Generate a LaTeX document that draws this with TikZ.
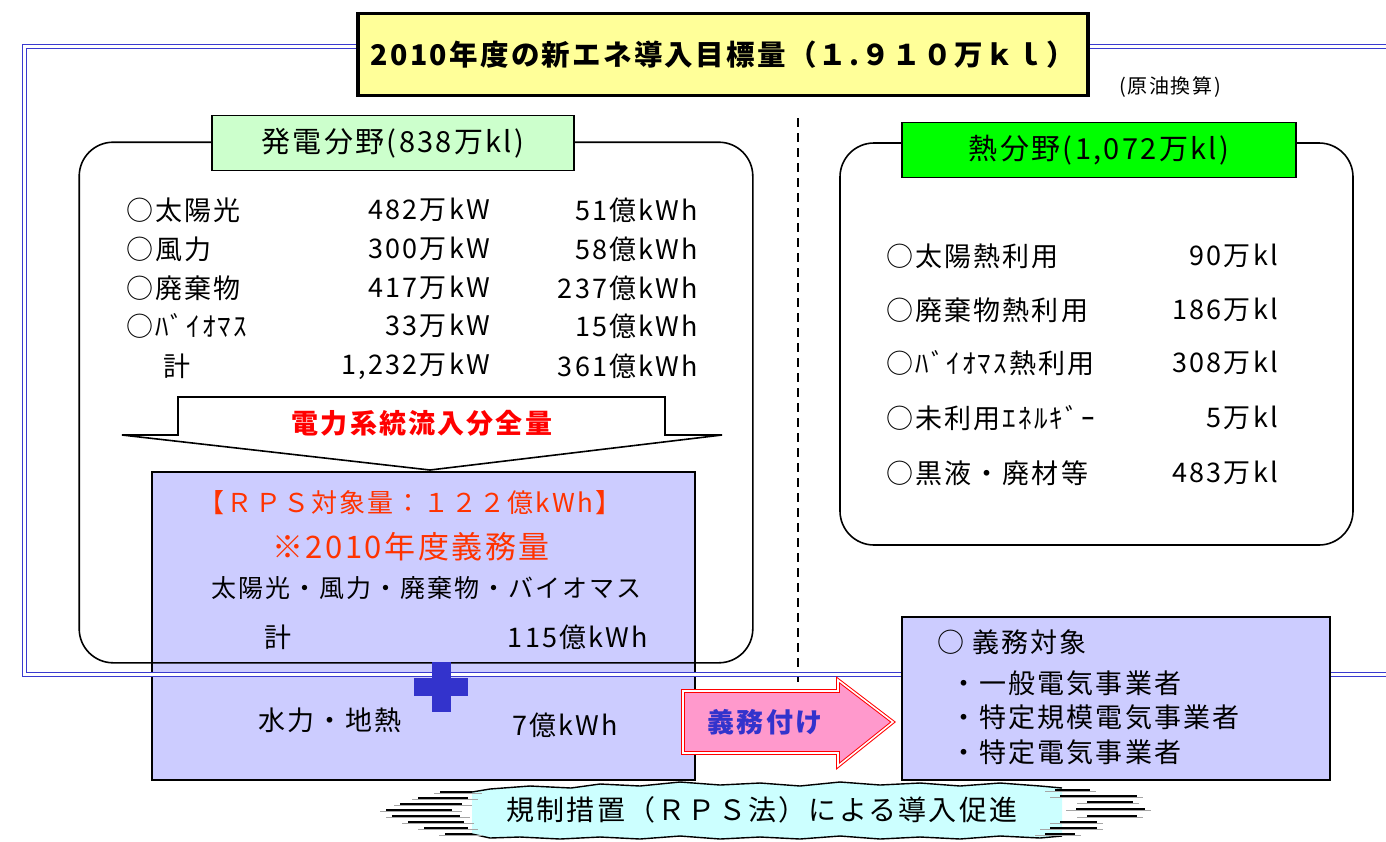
\documentclass[tikz,border=0pt]{standalone}
\usepackage{fontspec}
\setmainfont{Noto Sans CJK JP}[LetterSpace=8]
\definecolor{frameblue}{HTML}{3A3ACF}
\definecolor{lav}{HTML}{CCCCFF}
\definecolor{titleyellow}{HTML}{FFFF99}
\definecolor{lightgreen}{HTML}{CCFFCC}
\definecolor{brightgreen}{HTML}{00FF00}
\definecolor{rpsred}{HTML}{FF3300}
\definecolor{pinkfill}{HTML}{FF99CC}
\definecolor{bannercyan}{HTML}{CCFFFF}
\definecolor{plusblue}{HTML}{3333CC}
\newcommand{\fsz}[1]{\fontsize{#1}{#1}\selectfont}
\begin{document}
\begin{tikzpicture}[x=1pt,y=-1pt,
  txt/.style={inner sep=0pt, font=\fsz{27}},
  lbl/.style={txt, anchor=west},
  val/.style={txt, anchor=east},
  roundbox/.style={rounded corners=34pt, line width=1.6pt},
  headbox/.style={draw, line width=1.6pt, inner sep=0pt, font=\fsz{29}},
  lavbox/.style={draw, fill=lav, line width=1.8pt, inner sep=0pt},
  streak/.style={line width=2.2pt, black},
  streakg/.style={line width=1.2pt, gray!70}
]
\useasboundingbox (0,0) rectangle (1386,841);
\clip (0,0) rectangle (1386,841);

% left rounded box (fill only first)
\node[roundbox, fill=white, minimum width=672, minimum height=519, inner sep=0pt] (powerbox) at (416,402.5) {};
% RPS box
\node[lavbox, minimum width=543, minimum height=308] (rpsbox) at (423.5,626) {};
% rounded outline over RPS box
\draw[roundbox] (powerbox.south west) rectangle (powerbox.north east);

% right rounded box
\node[roundbox, draw, fill=white, minimum width=513, minimum height=402, inner sep=0pt] (heatbox) at (1096.5,344) {};

% dashed divider
\coordinate (dtop) at (798,118);
\coordinate (dbot) at (798,686);
\draw[line width=1.3pt, dash pattern=on 9pt off 6pt] (dtop) -- (dbot);

% outer double frame
\draw[frameblue, double=white, double distance=3pt, line width=1.3pt] (24.5,46.5) rectangle (1420,674.5);

% title
\node[draw, fill=titleyellow, line width=3.5pt, minimum width=730, minimum height=82, inner sep=0pt, font=\fsz{28.5}\bfseries] (title) at (723,54.5) {2010年度の新エネ導入目標量（１.９１０万ｋｌ）};
\node[txt, font=\fsz{20}] (genyu) at (1170,87) {(原油換算)};

% headers
\node[headbox, fill=lightgreen, minimum width=362, minimum height=55] (powerhead) at (393,143) {発電分野(838万kl)};
\node[headbox, fill=brightgreen, minimum width=394, minimum height=55] (heathead) at (1099,150) {熱分野(1,072万kl)};

% left rows
\node[lbl] (p1) at (126,210) {○太陽光};
\node[lbl] (p2) at (126,249) {○風力};
\node[lbl] (p3) at (126,288) {○廃棄物};
\node[lbl] (p4) at (126,326) {○ﾊﾞｲｵﾏｽ};
\node[lbl] (p5) at (163,366) {計};
\node[val] (k1) at (490,210) {482万kW};
\node[val] (k2) at (490,249) {300万kW};
\node[val] (k3) at (490,288) {417万kW};
\node[val] (k4) at (490,326) {33万kW};
\node[val] (k5) at (490,366) {1,232万kW};
\node[val] (e1) at (698,210) {51億kWh};
\node[val] (e2) at (698,249) {58億kWh};
\node[val] (e3) at (698,288) {237億kWh};
\node[val] (e4) at (698,326) {15億kWh};
\node[val] (e5) at (698,366) {361億kWh};

% right rows
\node[lbl] (h1) at (886,256) {○太陽熱利用};
\node[lbl] (h2) at (886,310) {○廃棄物熱利用};
\node[lbl] (h3) at (886,363) {○ﾊﾞｲｵﾏｽ熱利用};
\node[lbl] (h4) at (886,418) {○未利用ｴﾈﾙｷﾞｰ};
\node[lbl] (h5) at (886,473) {○黒液・廃材等};
\node[val] (v1) at (1278,256) {90万kl};
\node[val] (v2) at (1278,310) {186万kl};
\node[val] (v3) at (1278,363) {308万kl};
\node[val] (v4) at (1278,418) {5万kl};
\node[val] (v5) at (1278,473) {483万kl};

% big down arrow
\draw[line width=1.6pt, fill=white, line join=miter]
  (178,397) -- (665,397) -- (665,435) -- (722,435) -- (430,470) -- (122,435) -- (178,435) -- cycle;
\node[txt, font=\fsz{27}\bfseries, text=red] (flow) at (422,423) {電力系統流入分全量};

% RPS box contents
\node[txt, text=rpsred, font=\fsz{26}] (rps1) at (410,503) {【ＲＰＳ対象量：１２２億kWh】};
\node[txt, text=rpsred, font=\fsz{31}] (rps2) at (411,547) {※2010年度義務量};
\node[txt, font=\fsz{25}] (rps3) at (426,588) {太陽光・風力・廃棄物・バイオマス};
\node[txt] (rps4) at (278,637) {計};
\node[val] (rps5) at (648,637) {115億kWh};
\node[txt] (rps6) at (330,720) {水力・地熱};
\node[txt] (rps7) at (565,725) {7億kWh};

% plus sign
\fill[plusblue] (432,662) rectangle (451,712);
\fill[plusblue] (414,678) rectangle (468,696);

% obligation target box
\node[lavbox, minimum width=428, minimum height=163] (target) at (1116,698.5) {};
\node[lbl] (t1) at (937,642) {○ 義務対象};
\node[lbl] (t2) at (950,683) {・一般電気事業者};
\node[lbl] (t3) at (950,717) {・特定規模電気事業者};
\node[lbl] (t4) at (950,752) {・特定電気事業者};

% obligation arrow
\draw[red, double=white, double distance=1.6pt, line width=1pt, fill=pinkfill, line join=miter]
  (683,691) -- (838,691) -- (838,680) -- (893,722) -- (838,766) -- (838,753) -- (683,753) -- cycle;
\node[txt, text=plusblue, font=\fsz{27}\bfseries] (gimu) at (765,722) {義務付け};

% banner
\fill[bannercyan]
  (472,792) -- (490,789) -- (530,786) -- (571,788) -- (600,784) -- (640,786) -- (680,782) -- (720,785)
  -- (760,783) -- (800,786) -- (840,782) -- (880,785) -- (920,783) -- (960,786) -- (1000,783)
  -- (1040,786) -- (1062,788) -- (1062,836) -- (1040,838) -- (1000,836) -- (960,839) -- (920,837)
  -- (880,839) -- (840,836) -- (800,839) -- (760,837) -- (720,839) -- (680,836) -- (640,839)
  -- (600,837) -- (560,839) -- (520,837) -- (490,838) -- (472,834) -- cycle;
\draw[line width=1.4pt]
  (472,792) -- (490,789) -- (530,786) -- (571,788) -- (600,784) -- (640,786) -- (680,782) -- (720,785)
  -- (760,783) -- (800,786) -- (840,782) -- (880,785) -- (920,783) -- (960,786) -- (1000,783)
  -- (1040,786) -- (1062,788);
\draw[line width=1.4pt]
  (1062,836) -- (1040,838) -- (1000,836) -- (960,839) -- (920,837)
  -- (880,839) -- (840,836) -- (800,839) -- (760,837) -- (720,839) -- (680,836) -- (640,839)
  -- (600,837) -- (560,839) -- (520,837) -- (490,838) -- (472,834);
\foreach \xa/\xb/\yy in {440/482/792, 418/478/798, 400/472/804, 386/462/810, 392/470/816, 408/474/822, 424/478/828, 445/482/834}{
  \draw[streakg] (\xa-6,\yy+1.5) -- (\xb,\yy+1.5);
  \draw[streak] (\xa,\yy) -- (\xb-10,\yy);
}
\foreach \xa/\xb/\yy in {1045/1090/790, 1050/1137/796, 1077/1133/802, 1066/1145/809, 1077/1137/816, 1050/1097/822, 1040/1097/828, 1035/1075/834}{
  \draw[streakg] (\xa,\yy+1.5) -- (\xb+6,\yy+1.5);
  \draw[streak] (\xa+10,\yy) -- (\xb,\yy);
}
\node[txt, font=\fsz{28}] (banner) at (762,810) {規制措置（ＲＰＳ法）による導入促進};
\end{tikzpicture}
\end{document}
